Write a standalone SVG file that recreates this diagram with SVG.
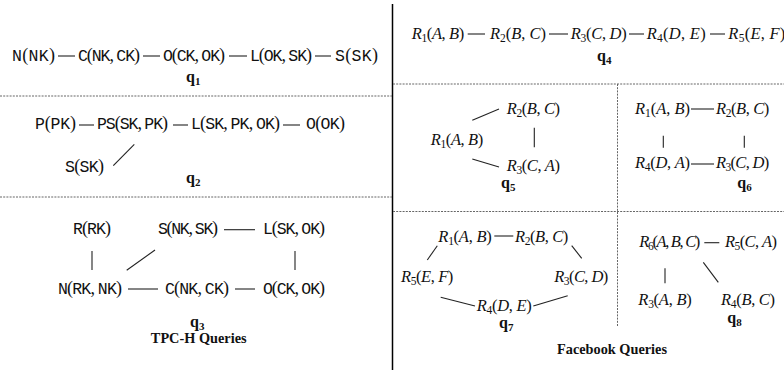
<svg xmlns="http://www.w3.org/2000/svg" width="784" height="373" viewBox="0 0 784 373">
  <style>
    .tt { font-family: "Liberation Mono", "DejaVu Sans Mono", monospace; font-size: 16.5px; fill: #111; }
    .p { font-family: "Liberation Serif", serif; font-size: 18px; }
    .m { font-family: "Liberation Serif", serif; font-size: 16.5px; font-style: italic; fill: #111; }
    .u { font-style: normal; }
    .sub { font-size: 11.5px; font-style: normal; }
    .lbl { font-family: "Liberation Serif", serif; font-weight: bold; font-size: 16px; fill: #111; }
    .cap { font-family: "Liberation Serif", serif; font-weight: bold; font-size: 14.3px; fill: #111; }
    .lsub { font-size: 11px; }
    .edge { stroke: #222; stroke-width: 1.1; fill: none; }
    .rule { stroke: #000; stroke-width: 1.5; }
    .sep { stroke: #666; stroke-width: 1; stroke-dasharray: 2 1.2; }
  </style>

  <!-- panel frame -->
  <g id="frame">
    <line class="rule" x1="392.5" y1="4" x2="392.5" y2="370"/>
    <line class="sep" x1="0" y1="96" x2="392" y2="96"/>
    <line class="sep" x1="0" y1="197" x2="392" y2="197"/>
    <line class="sep" x1="393" y1="84" x2="784" y2="84"/>
    <line class="sep" x1="393" y1="211.5" x2="784" y2="211.5"/>
    <line class="sep" x1="617.5" y1="84" x2="617.5" y2="327"/>
  </g>

  <!-- connectors -->
  <g id="connectors">
    <!-- q1 -->
    <line class="edge" x1="58" y1="56" x2="75" y2="56"/>
    <line class="edge" x1="143" y1="56" x2="160" y2="56"/>
    <line class="edge" x1="229" y1="56" x2="247" y2="56"/>
    <line class="edge" x1="315" y1="56" x2="331" y2="56"/>
    <!-- q2 -->
    <line class="edge" x1="79" y1="125" x2="94" y2="125"/>
    <line class="edge" x1="173" y1="125" x2="188" y2="125"/>
    <line class="edge" x1="283" y1="125" x2="300" y2="125"/>
    <line class="edge" x1="113.3" y1="165.7" x2="134.3" y2="144.3"/>
    <!-- q3 -->
    <line class="edge" x1="224" y1="229.7" x2="255" y2="229.7"/>
    <line class="edge" x1="92" y1="251" x2="92" y2="270"/>
    <line class="edge" x1="126.7" y1="270.3" x2="155" y2="250"/>
    <line class="edge" x1="295" y1="251" x2="295" y2="270"/>
    <line class="edge" x1="128" y1="289" x2="158" y2="289"/>
    <line class="edge" x1="235" y1="289" x2="255" y2="289"/>
    <!-- q4 -->
    <line class="edge" x1="467.7" y1="34" x2="485" y2="34"/>
    <line class="edge" x1="549" y1="34" x2="568" y2="34"/>
    <line class="edge" x1="629" y1="34" x2="644" y2="34"/>
    <line class="edge" x1="710" y1="34" x2="725" y2="34"/>
    <!-- q5 -->
    <line class="edge" x1="472.3" y1="120.3" x2="499" y2="109"/>
    <line class="edge" x1="472.3" y1="159" x2="499" y2="167"/>
    <line class="edge" x1="534.3" y1="127.7" x2="534.3" y2="147.3"/>
    <!-- q6 -->
    <line class="edge" x1="691" y1="109" x2="714" y2="109"/>
    <line class="edge" x1="663.3" y1="135.7" x2="663.3" y2="147.7"/>
    <line class="edge" x1="744.3" y1="135.7" x2="744.3" y2="147.7"/>
    <line class="edge" x1="691" y1="164" x2="714" y2="164"/>
    <!-- q7 -->
    <line class="edge" x1="494.3" y1="236" x2="513.3" y2="236"/>
    <line class="edge" x1="427.3" y1="260" x2="437.3" y2="245.7"/>
    <line class="edge" x1="571.7" y1="245.7" x2="581.7" y2="258.3"/>
    <line class="edge" x1="440.7" y1="297.3" x2="475" y2="306"/>
    <line class="edge" x1="533.3" y1="306" x2="567.7" y2="295.7"/>
    <!-- q8 -->
    <line class="edge" x1="704.3" y1="242.7" x2="719.3" y2="242.7"/>
    <line class="edge" x1="665" y1="268.3" x2="665" y2="283.3"/>
    <line class="edge" x1="703.3" y1="262.3" x2="718.3" y2="282.3"/>
  </g>

  <!-- q1 -->
  <g id="q1-N"><text class="tt" x="12" y="61" textLength="43">N<tspan class="p">(</tspan>NK<tspan class="p">)</tspan></text></g>
  <g id="q1-C"><text class="tt" x="78" y="61" textLength="62">C<tspan class="p">(</tspan>NK<tspan class="p">, </tspan>CK<tspan class="p">)</tspan></text></g>
  <g id="q1-O"><text class="tt" x="163" y="61" textLength="62">O<tspan class="p">(</tspan>CK<tspan class="p">, </tspan>OK<tspan class="p">)</tspan></text></g>
  <g id="q1-L"><text class="tt" x="250" y="61" textLength="62">L<tspan class="p">(</tspan>OK<tspan class="p">, </tspan>SK<tspan class="p">)</tspan></text></g>
  <g id="q1-S"><text class="tt" x="335" y="61" textLength="43">S<tspan class="p">(</tspan>SK<tspan class="p">)</tspan></text></g>
  <text class="lbl" x="186" y="82">q<tspan class="lsub" dy="2.5">1</tspan></text>

  <!-- q2 -->
  <g id="q2-P"><text class="tt" x="35" y="129" textLength="41">P<tspan class="p">(</tspan>PK<tspan class="p">)</tspan></text></g>
  <g id="q2-PS"><text class="tt" x="97" y="129" textLength="71">PS<tspan class="p">(</tspan>SK<tspan class="p">, </tspan>PK<tspan class="p">)</tspan></text></g>
  <g id="q2-L"><text class="tt" x="191" y="129" textLength="89">L<tspan class="p">(</tspan>SK<tspan class="p">, </tspan>PK<tspan class="p">, </tspan>OK<tspan class="p">)</tspan></text></g>
  <g id="q2-O"><text class="tt" x="306" y="129" textLength="39">O<tspan class="p">(</tspan>OK<tspan class="p">)</tspan></text></g>
  <g id="q2-S"><text class="tt" x="65" y="171.7" textLength="39">S<tspan class="p">(</tspan>SK<tspan class="p">)</tspan></text></g>
  <text class="lbl" x="186" y="183">q<tspan class="lsub" dy="2.5">2</tspan></text>

  <!-- q3 -->
  <g id="q3-R"><text class="tt" x="73" y="234" textLength="38">R<tspan class="p">(</tspan>RK<tspan class="p">)</tspan></text></g>
  <g id="q3-S"><text class="tt" x="158" y="234" textLength="60">S<tspan class="p">(</tspan>NK<tspan class="p">, </tspan>SK<tspan class="p">)</tspan></text></g>
  <g id="q3-L"><text class="tt" x="263" y="234" textLength="62">L<tspan class="p">(</tspan>SK<tspan class="p">, </tspan>OK<tspan class="p">)</tspan></text></g>
  <g id="q3-N"><text class="tt" x="58" y="294" textLength="64">N<tspan class="p">(</tspan>RK<tspan class="p">, </tspan>NK<tspan class="p">)</tspan></text></g>
  <g id="q3-C"><text class="tt" x="165" y="294" textLength="64">C<tspan class="p">(</tspan>NK<tspan class="p">, </tspan>CK<tspan class="p">)</tspan></text></g>
  <g id="q3-O"><text class="tt" x="263" y="294" textLength="62">O<tspan class="p">(</tspan>CK<tspan class="p">, </tspan>OK<tspan class="p">)</tspan></text></g>
  <text class="lbl" x="190" y="327">q<tspan class="lsub" dy="2.5">3</tspan></text>
  <text class="cap" x="198.7" y="343" text-anchor="middle">TPC-H Queries</text>

  <!-- q4 -->
  <g id="q4-R1"><text class="m" x="411.7" y="39" textLength="52.6">R<tspan class="sub" dy="3">1</tspan><tspan class="u" dy="-3">(</tspan>A<tspan class="u">, </tspan>B<tspan class="u">)</tspan></text></g>
  <g id="q4-R2"><text class="m" x="490" y="39" textLength="56">R<tspan class="sub" dy="3">2</tspan><tspan class="u" dy="-3">(</tspan>B<tspan class="u">, </tspan>C<tspan class="u">)</tspan></text></g>
  <g id="q4-R3"><text class="m" x="570.7" y="39" textLength="56">R<tspan class="sub" dy="3">3</tspan><tspan class="u" dy="-3">(</tspan>C<tspan class="u">, </tspan>D<tspan class="u">)</tspan></text></g>
  <g id="q4-R4"><text class="m" x="646.7" y="39" textLength="59">R<tspan class="sub" dy="3">4</tspan><tspan class="u" dy="-3">(</tspan>D<tspan class="u">, </tspan>E<tspan class="u">)</tspan></text></g>
  <g id="q4-R5"><text class="m" x="728.3" y="39" textLength="57">R<tspan class="sub" dy="3">5</tspan><tspan class="u" dy="-3">(</tspan>E<tspan class="u">, </tspan>F<tspan class="u">)</tspan></text></g>
  <text class="lbl" x="597" y="61">q<tspan class="lsub" dy="2.5">4</tspan></text>

  <!-- q5 -->
  <g id="q5-R2"><text class="m" x="506.7" y="114.3" textLength="53.3">R<tspan class="sub" dy="3">2</tspan><tspan class="u" dy="-3">(</tspan>B<tspan class="u">, </tspan>C<tspan class="u">)</tspan></text></g>
  <g id="q5-R1"><text class="m" x="430.7" y="145" textLength="52.6">R<tspan class="sub" dy="3">1</tspan><tspan class="u" dy="-3">(</tspan>A<tspan class="u">, </tspan>B<tspan class="u">)</tspan></text></g>
  <g id="q5-R3"><text class="m" x="506.7" y="171" textLength="53.3">R<tspan class="sub" dy="3">3</tspan><tspan class="u" dy="-3">(</tspan>C<tspan class="u">, </tspan>A<tspan class="u">)</tspan></text></g>
  <text class="lbl" x="501" y="188">q<tspan class="lsub" dy="2.5">5</tspan></text>

  <!-- q6 -->
  <g id="q6-R1"><text class="m" x="635" y="114.3" textLength="55">R<tspan class="sub" dy="3">1</tspan><tspan class="u" dy="-3">(</tspan>A<tspan class="u">, </tspan>B<tspan class="u">)</tspan></text></g>
  <g id="q6-R2"><text class="m" x="716" y="114.3" textLength="53.3">R<tspan class="sub" dy="3">2</tspan><tspan class="u" dy="-3">(</tspan>B<tspan class="u">, </tspan>C<tspan class="u">)</tspan></text></g>
  <g id="q6-R4"><text class="m" x="635" y="168.3" textLength="55">R<tspan class="sub" dy="3">4</tspan><tspan class="u" dy="-3">(</tspan>D<tspan class="u">, </tspan>A<tspan class="u">)</tspan></text></g>
  <g id="q6-R3"><text class="m" x="716" y="168.3" textLength="53.3">R<tspan class="sub" dy="3">3</tspan><tspan class="u" dy="-3">(</tspan>C<tspan class="u">, </tspan>D<tspan class="u">)</tspan></text></g>
  <text class="lbl" x="737.3" y="188">q<tspan class="lsub" dy="2.5">6</tspan></text>

  <!-- q7 -->
  <g id="q7-R1"><text class="m" x="438.3" y="241.7" textLength="53.4">R<tspan class="sub" dy="3">1</tspan><tspan class="u" dy="-3">(</tspan>A<tspan class="u">, </tspan>B<tspan class="u">)</tspan></text></g>
  <g id="q7-R2"><text class="m" x="515" y="241.7" textLength="53.3">R<tspan class="sub" dy="3">2</tspan><tspan class="u" dy="-3">(</tspan>B<tspan class="u">, </tspan>C<tspan class="u">)</tspan></text></g>
  <g id="q7-R5"><text class="m" x="401" y="282.3" textLength="52.3">R<tspan class="sub" dy="3">5</tspan><tspan class="u" dy="-3">(</tspan>E<tspan class="u">, </tspan>F<tspan class="u">)</tspan></text></g>
  <g id="q7-R3"><text class="m" x="554.3" y="282.3" textLength="54">R<tspan class="sub" dy="3">3</tspan><tspan class="u" dy="-3">(</tspan>C<tspan class="u">, </tspan>D<tspan class="u">)</tspan></text></g>
  <g id="q7-R4"><text class="m" x="476.7" y="311" textLength="55">R<tspan class="sub" dy="3">4</tspan><tspan class="u" dy="-3">(</tspan>D<tspan class="u">, </tspan>E<tspan class="u">)</tspan></text></g>
  <text class="lbl" x="499" y="328.3">q<tspan class="lsub" dy="2.5">7</tspan></text>

  <!-- q8 -->
  <g id="q8-R6"><text class="m" x="639.3" y="247.3" textLength="61">R<tspan class="sub" dy="3">6</tspan><tspan class="u" dy="-3">(</tspan>A<tspan class="u">, </tspan>B<tspan class="u">, </tspan>C<tspan class="u">)</tspan></text></g>
  <g id="q8-R5"><text class="m" x="725" y="247.3" textLength="52">R<tspan class="sub" dy="3">5</tspan><tspan class="u" dy="-3">(</tspan>C<tspan class="u">, </tspan>A<tspan class="u">)</tspan></text></g>
  <g id="q8-R3"><text class="m" x="638.3" y="305" textLength="53.4">R<tspan class="sub" dy="3">3</tspan><tspan class="u" dy="-3">(</tspan>A<tspan class="u">, </tspan>B<tspan class="u">)</tspan></text></g>
  <g id="q8-R4"><text class="m" x="721" y="305" textLength="54">R<tspan class="sub" dy="3">4</tspan><tspan class="u" dy="-3">(</tspan>B<tspan class="u">, </tspan>C<tspan class="u">)</tspan></text></g>
  <text class="lbl" x="727.3" y="323.3">q<tspan class="lsub" dy="2.5">8</tspan></text>
  <text class="cap" x="612" y="353.5" text-anchor="middle">Facebook Queries</text>
</svg>
